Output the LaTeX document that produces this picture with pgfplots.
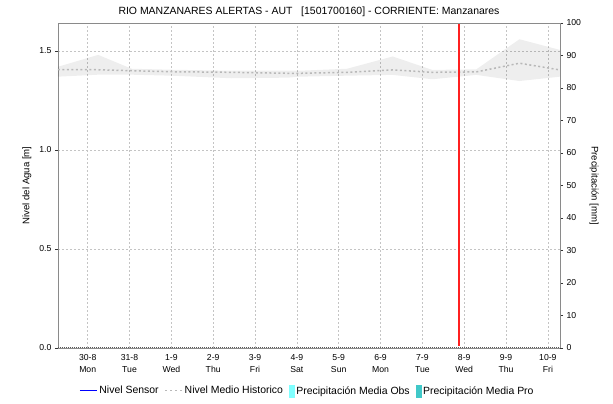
\documentclass[border=0pt]{standalone}
\usepackage{fontspec}
\setmainfont{Liberation Sans}
\usepackage{pgfplots}
\pgfplotsset{compat=1.18}
\definecolor{histc}{HTML}{B8B8B8}
\definecolor{gridc}{HTML}{C4C4C4}
\definecolor{obs}{HTML}{80FFFF}
\definecolor{pro}{HTML}{40C8C8}
\definecolor{axc}{HTML}{8A8A8A}
\definecolor{nowc}{HTML}{FF2020}
\definecolor{sensc}{HTML}{0000FF}
\begin{document}
\begin{tikzpicture}
\path[use as bounding box] (-58bp,-56bp) rectangle (555bp,348bp);
\begin{axis}[
  at={(0,0)}, anchor=south west,
  scale only axis, width=502bp, height=325bp,
  xmin=-0.71, xmax=11.29, ymin=0, ymax=1.641,
  axis y line*=left, axis x line*=bottom,
  axis line style={axc, -},
  xtick={0,...,11},
  xticklabels={{30-8\\Mon},{31-8\\Tue},{1-9\\Wed},{2-9\\Thu},{3-9\\Fri},{4-9\\Sat},{5-9\\Sun},{6-9\\Mon},{7-9\\Tue},{8-9\\Wed},{9-9\\Thu},{10-9\\Fri}},
  xticklabel style={align=center, font=\fontsize{8.7}{12}\selectfont},
  xtick style={draw=none},
  ytick={0,0.5,1,1.5},
  yticklabel style={font=\fontsize{8.7}{10}\selectfont, /pgf/number format/fixed, /pgf/number format/fixed zerofill, /pgf/number format/precision=1},
  /pgf/number format/assume math mode=true,
  tick align=outside, major tick length=3bp,
  ytick style={black!80},
  grid=major,
  major grid style={gridc, dash pattern=on 2bp off 2bp, line width=0.6bp},
  ylabel={Nivel del Agua [m]},
  every axis y label/.style={at={(axis description cs:-0.062,0.5)}, rotate=90, anchor=center, font=\fontsize{9.6}{11}\selectfont},
  title={RIO MANZANARES ALERTAS - AUT\ \ \ [1501700160] - CORRIENTE: Manzanares},
  every axis title shift=0pt,
  title style={at={(axis description cs:0.5,1.034)}, anchor=center, font=\fontsize{10.5}{12}\selectfont},
  legend style={at={(axis description cs:0.497,-0.132)}, anchor=center, draw=none, fill=none,
    font=\fontsize{10.5}{12}\selectfont,
    /tikz/every even column/.append style={column sep=4bp}},
  legend columns=-1,
]
% historic band (min-max)
\addplot[forget plot, draw=none, fill=black, fill opacity=0.065] coordinates {
  (-0.71,1.420) (0.25,1.480) (1.05,1.410) (2.00,1.405) (3.44,1.400) (4.78,1.400)
  (5.07,1.400) (6.20,1.410) (7.29,1.472) (8.24,1.404) (9.29,1.407) (10.32,1.559) (11.29,1.505)
  (11.29,1.370) (10.32,1.348) (9.29,1.379) (8.24,1.357) (7.29,1.379) (6.20,1.375)
  (5.07,1.370) (4.78,1.365) (3.44,1.362) (2.00,1.375) (1.05,1.380) (0.25,1.380) (-0.71,1.370)
} -- cycle;
% historic mean
\addplot[forget plot, histc, line width=1.5bp, dash pattern=on 2bp off 2.5bp] coordinates {
  (-0.71,1.405) (0.25,1.405) (1.05,1.400) (2.00,1.395) (3.44,1.392) (4.78,1.387)
  (5.07,1.387) (6.20,1.392) (7.29,1.404) (8.24,1.392) (9.29,1.394) (10.32,1.438) (11.29,1.404)
};
% precipitation zero line
\addplot[forget plot, black!65, line width=1bp, dash pattern=on 1bp off 1bp] coordinates {(-0.71,0.004) (11.29,0.004)};
% current time marker
\addplot[forget plot, draw=nowc, line width=1.4bp, mark=none] coordinates {(8.88,0.01) (8.88,1.64)};
\addlegendimage{draw=sensc, line width=1bp}
\addlegendentry{Nivel Sensor}
\addlegendimage{draw=histc, line width=1bp, dash pattern=on 2bp off 3bp}
\addlegendentry{Nivel Medio Historico}
\addlegendimage{legend image code/.code={\fill[obs] (0bp,-6bp) rectangle (5bp,6bp);}}
\addlegendentry{Precipitación Media Obs}
\addlegendimage{legend image code/.code={\fill[pro] (0bp,-6bp) rectangle (5bp,6bp);}}
\addlegendentry{Precipitación Media Pro}
\end{axis}
\begin{axis}[
  at={(0,0)}, anchor=south west,
  scale only axis, width=502bp, height=325bp,
  xmin=-0.71, xmax=11.29, ymin=0, ymax=100,
  axis y line*=right, axis x line=none,
  axis line style={axc, -},
  ytick={0,10,...,100},
  yticklabel style={font=\fontsize{8.7}{10}\selectfont},
  /pgf/number format/assume math mode=true,
  tick align=outside, major tick length=3bp,
  ytick style={black!80},
  ylabel={Precipitación [mm]},
  every axis y label/.style={at={(axis description cs:1.068,0.5)}, rotate=-90, anchor=center, font=\fontsize{9.6}{11}\selectfont},
]
\addplot[draw=none] coordinates {(0,0)};
\end{axis}
\draw[axc] (0,325bp) -- (502bp,325bp);
\end{tikzpicture}
\end{document}
